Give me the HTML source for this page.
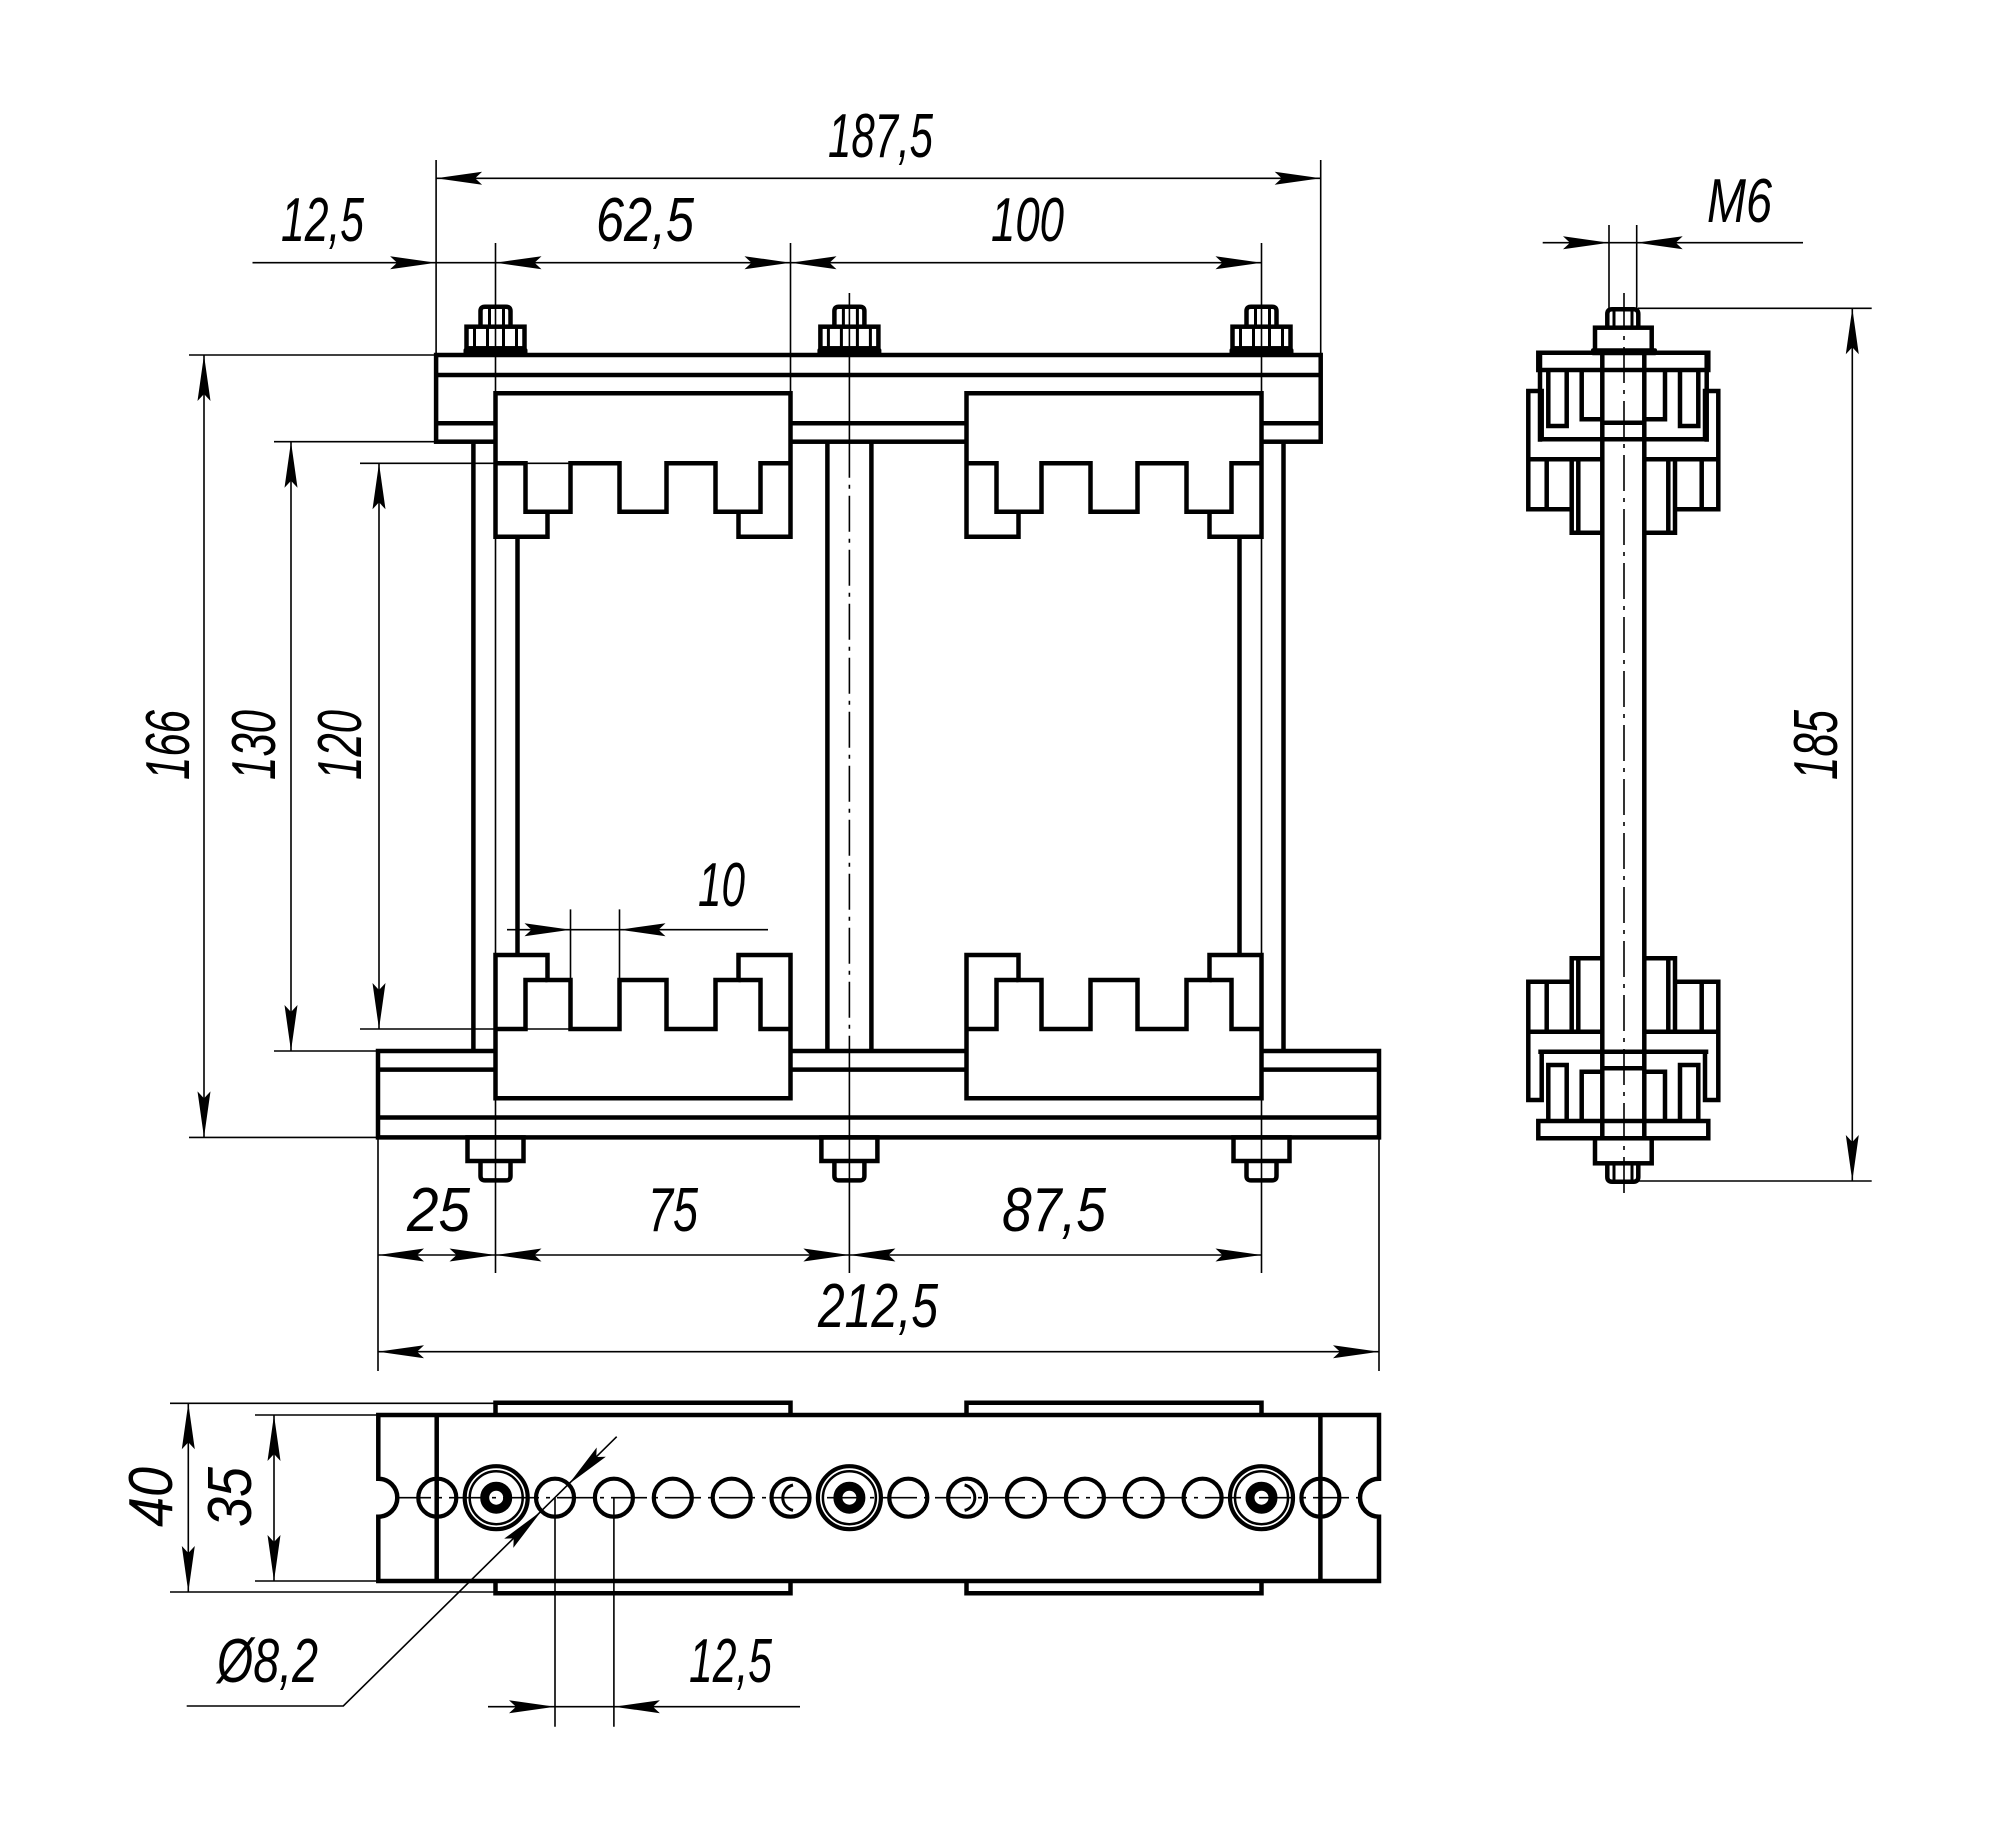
<!DOCTYPE html>
<html><head><meta charset="utf-8"><style>
html,body{margin:0;padding:0;background:#fff;}
svg{display:block;}
.k{stroke:#000;stroke-width:4.5;fill:none;stroke-linejoin:miter;}
.kw{stroke:#000;stroke-width:4.5;fill:#fff;stroke-linejoin:miter;}
.t{stroke:#000;stroke-width:1.6;fill:none;}
.c{stroke:#000;stroke-width:1.6;fill:none;stroke-dasharray:36 7 4 7;}
.h{stroke:#000;stroke-width:4.2;fill:none;}
text{font-family:"Liberation Sans Narrow","Liberation Sans",sans-serif;font-style:italic;font-size:62px;fill:#000;}
</style></head><body>
<svg width="2000" height="1838" viewBox="0 0 2000 1838" xmlns="http://www.w3.org/2000/svg">
<defs>
<path id="ar" d="M0,0 L-46,-6.5 L-39,0 L-46,6.5 Z" fill="#000"/>
<g id="sb">
<path class="k" d="M1602.3,958.3 H1571.7 V1031.7 H1602.3 M1644.3,958.3 H1675 V1031.7 H1644.3 M1578.3,958.3 V1031.7 M1668.3,958.3 V1031.7 M1571.7,981.7 H1528.3 V1100 H1541.7 V1051.7 M1675,981.7 H1718.3 V1100 H1705 V1051.7 M1546.7,981.7 V1031.7 M1701.7,981.7 V1031.7 M1528.3,1031.7 H1571.7 M1675,1031.7 H1718.3 M1538.3,1051.7 H1708.3 M1548.3,1121 V1065 H1566.7 V1121 H1581.7 V1071.7 H1602.3 M1698.3,1121 V1065 H1680 V1121 H1665 V1071.7 H1644.3 M1538.3,1121 H1708.3 V1138.3 H1538.3 Z M1602.3,1068.3 H1644.3"/>
<rect class="k" x="1595" y="1138.3" width="56.7" height="25"/>
<path class="k" d="M1607.3,1163.3 V1177 Q1607.3,1181.7 1612,1181.7 H1633.6 Q1638.3,1181.7 1638.3,1177 V1163.3"/>
<path class="t" d="M1614,1163.3 V1181 M1632,1163.3 V1181" style="stroke-width:3"/>
</g>
</defs>

<!-- ===== FRONT VIEW ===== -->
<rect class="k" x="436.1" y="355" width="884.6" height="86.7"/>
<path class="k" d="M436.1,375 H1320.7 M436.1,423.3 H495.5 M790.5,423.3 H966.5 M1261.5,423.3 H1320.7"/>
<rect class="k" x="378" y="1051" width="1001" height="86.4"/>
<path class="k" d="M378,1069.6 H495.5 M790.5,1069.6 H966.5 M1261.5,1069.6 H1379 M378,1117.5 H1379"/>
<path class="k" d="M473.4,441.7 V1051 M517.5,536.7 V954.9 M827.4,441.7 V1051 M871.4,441.7 V1051 M1239.5,536.7 V954.9 M1283.5,441.7 V1051"/>
<path class="t" d="M495.5,243 V1273 M1261.5,243 V1273 M790.5,243 V393.3 M849.4,293 V441.7 M849.4,1051 V1273"/>
<path class="c" d="M849.4,441.7 V1051"/>
<path class="kw" d="M495.5,393.3 H790.5 V536.7 H738.5 V511.7 H715.5 V463.3 H666.5 V511.7 H619.5 V463.3 H570.5 V511.7 H547.5 V536.7 H495.5 Z"/>
<path class="k" d="M495.5,463.3 H525.5 V511.7 H547.5 M790.5,463.3 H760.5 V511.7 H738.5"/>
<path class="kw" d="M966.5,393.3 H1261.5 V536.7 H1209.5 V511.7 H1186.5 V463.3 H1137.5 V511.7 H1090.5 V463.3 H1041.5 V511.7 H1018.5 V536.7 H966.5 Z"/>
<path class="k" d="M966.5,463.3 H996.5 V511.7 H1018.5 M1261.5,463.3 H1231.5 V511.7 H1209.5"/>
<path class="kw" d="M495.5,1098.3 H790.5 V955 H738.5 V980 H715.5 V1029 H666.5 V980 H619.5 V1029 H570.5 V980 H547.5 V955 H495.5 Z"/>
<path class="k" d="M495.5,1029 H525.5 V980 H547.5 M790.5,1029 H760.5 V980 H738.5"/>
<path class="kw" d="M966.5,1098.3 H1261.5 V955 H1209.5 V980 H1186.5 V1029 H1137.5 V980 H1090.5 V1029 H1041.5 V980 H1018.5 V955 H966.5 Z"/>
<path class="k" d="M966.5,1029 H996.5 V980 H1018.5 M1261.5,1029 H1231.5 V980 H1209.5"/>

<g>
<rect x="463.5" y="348.3" width="64" height="7" rx="2" fill="#000"/>
<rect class="k" x="466.5" y="326.7" width="58" height="21.6"/>
<path class="t" style="stroke-width:3" d="M474.5,326.7 V348 M487.5,326.7 V348 M503.5,326.7 V348 M516.5,326.7 V348"/>
<path class="k" d="M480.5,326.7 V311 Q480.5,306.7 485,306.7 H506 Q510.5,306.7 510.5,311 V326.7"/>
<path class="t" style="stroke-width:3" d="M489.5,307 V326.7 M503.5,307 V326.7"/>
</g>
<g>
<rect x="817.4" y="348.3" width="64" height="7" rx="2" fill="#000"/>
<rect class="k" x="820.4" y="326.7" width="58" height="21.6"/>
<path class="t" style="stroke-width:3" d="M828.4,326.7 V348 M841.4,326.7 V348 M857.4,326.7 V348 M870.4,326.7 V348"/>
<path class="k" d="M834.4,326.7 V311 Q834.4,306.7 838.9,306.7 H859.9 Q864.4,306.7 864.4,311 V326.7"/>
<path class="t" style="stroke-width:3" d="M843.4,307 V326.7 M857.4,307 V326.7"/>
</g>
<g>
<rect x="1229.5" y="348.3" width="64" height="7" rx="2" fill="#000"/>
<rect class="k" x="1232.5" y="326.7" width="58" height="21.6"/>
<path class="t" style="stroke-width:3" d="M1240.5,326.7 V348 M1253.5,326.7 V348 M1269.5,326.7 V348 M1282.5,326.7 V348"/>
<path class="k" d="M1246.5,326.7 V311 Q1246.5,306.7 1251,306.7 H1272 Q1276.5,306.7 1276.5,311 V326.7"/>
<path class="t" style="stroke-width:3" d="M1255.5,307 V326.7 M1269.5,307 V326.7"/>
</g>
<g>
<rect class="k" x="467.5" y="1137.4" width="56" height="23.6"/>
<path class="k" d="M480.5,1161 V1176 Q480.5,1180.4 485,1180.4 H506 Q510.5,1180.4 510.5,1176 V1161"/>
</g>
<g>
<rect class="k" x="821.4" y="1137.4" width="56" height="23.6"/>
<path class="k" d="M834.4,1161 V1176 Q834.4,1180.4 838.9,1180.4 H859.9 Q864.4,1180.4 864.4,1176 V1161"/>
</g>
<g>
<rect class="k" x="1233.5" y="1137.4" width="56" height="23.6"/>
<path class="k" d="M1246.5,1161 V1176 Q1246.5,1180.4 1251,1180.4 H1272 Q1276.5,1180.4 1276.5,1176 V1161"/>
</g>

<path class="t" d="M436.1,160 V355 M1320.7,160 V355 M436.1,178.3 H1320.7"/>
<path class="t" d="M252.5,262.7 H1261.5"/>
<path class="t" d="M189,355 H436.1 M189,1137.4 H378 M204,355 V1137.4"/>
<path class="t" d="M274,441.7 H473.4 M274,1051 H378 M291,441.7 V1051"/>
<path class="t" d="M360,463.3 H570.5 M360,1029 H570.5 M379,463.3 V1029"/>
<path class="t" d="M570.5,909.4 V980 M619.5,909.4 V980 M507,929.7 H768"/>
<path class="t" d="M378,1137.4 V1371 M1379,1137.4 V1371 M378,1255 H1261.5 M378,1351.7 H1379"/>

<use href="#ar" transform="translate(436.1,178.3) rotate(180)"/>
<use href="#ar" transform="translate(1320.7,178.3)"/>
<use href="#ar" transform="translate(436.1,262.7)"/>
<use href="#ar" transform="translate(495.5,262.7) rotate(180)"/>
<use href="#ar" transform="translate(790.5,262.7)"/>
<use href="#ar" transform="translate(790.5,262.7) rotate(180)"/>
<use href="#ar" transform="translate(1261.5,262.7)"/>
<use href="#ar" transform="translate(204,355) rotate(-90)"/>
<use href="#ar" transform="translate(204,1137.4) rotate(90)"/>
<use href="#ar" transform="translate(291,441.7) rotate(-90)"/>
<use href="#ar" transform="translate(291,1051) rotate(90)"/>
<use href="#ar" transform="translate(379,463.3) rotate(-90)"/>
<use href="#ar" transform="translate(379,1029) rotate(90)"/>
<use href="#ar" transform="translate(570.5,929.7)"/>
<use href="#ar" transform="translate(619.5,929.7) rotate(180)"/>
<use href="#ar" transform="translate(378,1255) rotate(180)"/>
<use href="#ar" transform="translate(495.5,1255)"/>
<use href="#ar" transform="translate(495.5,1255) rotate(180)"/>
<use href="#ar" transform="translate(849.4,1255)"/>
<use href="#ar" transform="translate(849.4,1255) rotate(180)"/>
<use href="#ar" transform="translate(1261.5,1255)"/>
<use href="#ar" transform="translate(378,1351.7) rotate(180)"/>
<use href="#ar" transform="translate(1379,1351.7)"/>

<text x="828" y="157" textLength="105" lengthAdjust="spacingAndGlyphs">187,5</text>
<text x="281" y="241" textLength="83" lengthAdjust="spacingAndGlyphs">12,5</text>
<text x="596" y="241" textLength="98" lengthAdjust="spacingAndGlyphs">62,5</text>
<text x="991" y="241" textLength="73" lengthAdjust="spacingAndGlyphs">100</text>
<text x="698" y="906" textLength="47" lengthAdjust="spacingAndGlyphs">10</text>
<text x="407" y="1231" textLength="63" lengthAdjust="spacingAndGlyphs">25</text>
<text x="648" y="1231" textLength="50" lengthAdjust="spacingAndGlyphs">75</text>
<text x="1002" y="1231" textLength="104" lengthAdjust="spacingAndGlyphs">87,5</text>
<text x="818" y="1327" textLength="120" lengthAdjust="spacingAndGlyphs">212,5</text>
<text transform="translate(189,745) rotate(-90)" text-anchor="middle" textLength="70" lengthAdjust="spacingAndGlyphs">166</text>
<text transform="translate(275,745) rotate(-90)" text-anchor="middle" textLength="70" lengthAdjust="spacingAndGlyphs">130</text>
<text transform="translate(361,745) rotate(-90)" text-anchor="middle" textLength="70" lengthAdjust="spacingAndGlyphs">120</text>

<!-- ===== SIDE VIEW ===== -->
<path class="k" d="M1602.3,355 V1138.3 M1644.3,355 V1138.3"/>
<use href="#sb"/>
<use href="#sb" transform="translate(0,1491) scale(1,-1)"/>
<path class="k" d="M1540,353 V441.7 M1706.7,353 V441.7"/>
<rect x="1591" y="348.3" width="66" height="7" rx="2" fill="#000"/>
<path class="c" d="M1624,293 V1197"/>
<path class="t" d="M1609,225 V308 M1636.7,225 V308 M1542.7,242.7 H1803"/>
<path class="t" d="M1638,308.3 H1871.7 M1638,1181 H1871.7 M1852.3,308.3 V1181"/>
<use href="#ar" transform="translate(1609,242.7)"/>
<use href="#ar" transform="translate(1636.7,242.7) rotate(180)"/>
<use href="#ar" transform="translate(1852.3,308.3) rotate(-90)"/>
<use href="#ar" transform="translate(1852.3,1181) rotate(90)"/>
<text x="1707" y="222" textLength="65" lengthAdjust="spacingAndGlyphs">M6</text>
<text transform="translate(1837,745) rotate(-90)" text-anchor="middle" textLength="70" lengthAdjust="spacingAndGlyphs">185</text>

<!-- ===== TOP VIEW ===== -->
<path class="k" d="M378.3,1415 H1379 V1478.7 A18.5,18.5 0 0 0 1379,1516.7 V1581 H378.3 V1516.7 A18.5,18.5 0 0 0 378.3,1478.7 Z"/>
<path class="k" d="M436.7,1415 V1581 M1320.4,1415 V1581"/>
<path class="k" d="M495.5,1415 V1402.7 H790.5 V1415 M495.5,1581 V1593.3 H790.5 V1581 M966.5,1415 V1402.7 H1261.5 V1415 M966.5,1581 V1593.3 H1261.5 V1581"/>
<path class="c" d="M395,1497.7 H1362"/>
<g class="h">
<circle cx="437.3" cy="1497.7" r="19"/>
<circle cx="555" cy="1497.7" r="19"/>
<circle cx="613.9" cy="1497.7" r="19"/>
<circle cx="672.8" cy="1497.7" r="19"/>
<circle cx="731.7" cy="1497.7" r="19"/>
<circle cx="790.5" cy="1497.7" r="19"/>
<circle cx="908.3" cy="1497.7" r="19"/>
<circle cx="967.1" cy="1497.7" r="19"/>
<circle cx="1026" cy="1497.7" r="19"/>
<circle cx="1084.9" cy="1497.7" r="19"/>
<circle cx="1143.7" cy="1497.7" r="19"/>
<circle cx="1202.6" cy="1497.7" r="19"/>
<circle cx="1320.4" cy="1497.7" r="19"/>
</g>
<path class="t" style="stroke-width:3" d="M793,1485 A13,13 0 0 0 793,1510.4 M964.6,1485 A13,13 0 0 1 964.6,1510.4"/>
<g>
<circle cx="496.2" cy="1497.7" r="31.5" class="h"/>
<circle cx="496.2" cy="1497.7" r="26.5" class="t" style="stroke-width:2.5"/>
<circle cx="496.2" cy="1497.7" r="11.5" fill="none" stroke="#000" stroke-width="9"/>
</g>
<g>
<circle cx="849.4" cy="1497.7" r="31.5" class="h"/>
<circle cx="849.4" cy="1497.7" r="26.5" class="t" style="stroke-width:2.5"/>
<circle cx="849.4" cy="1497.7" r="11.5" fill="none" stroke="#000" stroke-width="9"/>
</g>
<g>
<circle cx="1261.5" cy="1497.7" r="31.5" class="h"/>
<circle cx="1261.5" cy="1497.7" r="26.5" class="t" style="stroke-width:2.5"/>
<circle cx="1261.5" cy="1497.7" r="11.5" fill="none" stroke="#000" stroke-width="9"/>
</g>
<path class="t" d="M170,1403.3 H495.5 M170,1592 H495.5 M188.3,1403.3 V1592"/>
<path class="t" d="M255,1415 H378.3 M255,1581 H378.3 M274,1415 V1581"/>
<path class="t" d="M616.7,1436.7 L343.3,1706 H186.7"/>
<path class="t" d="M555,1497.7 V1726.7 M613.9,1497.7 V1726.7 M488,1706.7 H800"/>
<use href="#ar" transform="translate(188.3,1403.3) rotate(-90)"/>
<use href="#ar" transform="translate(188.3,1592) rotate(90)"/>
<use href="#ar" transform="translate(274,1415) rotate(-90)"/>
<use href="#ar" transform="translate(274,1581) rotate(90)"/>
<use href="#ar" transform="translate(568.5,1484.4) rotate(135.4)"/>
<use href="#ar" transform="translate(541.5,1511) rotate(-44.6)"/>
<use href="#ar" transform="translate(555,1706.7)"/>
<use href="#ar" transform="translate(613.9,1706.7) rotate(180)"/>
<text transform="translate(172,1497) rotate(-90)" text-anchor="middle" textLength="60" lengthAdjust="spacingAndGlyphs">40</text>
<text transform="translate(251,1497) rotate(-90)" text-anchor="middle" textLength="60" lengthAdjust="spacingAndGlyphs">35</text>
<text x="217" y="1682" textLength="101" lengthAdjust="spacingAndGlyphs">Ø8,2</text>
<text x="689" y="1682" textLength="83" lengthAdjust="spacingAndGlyphs">12,5</text>
</svg>
</body></html>
